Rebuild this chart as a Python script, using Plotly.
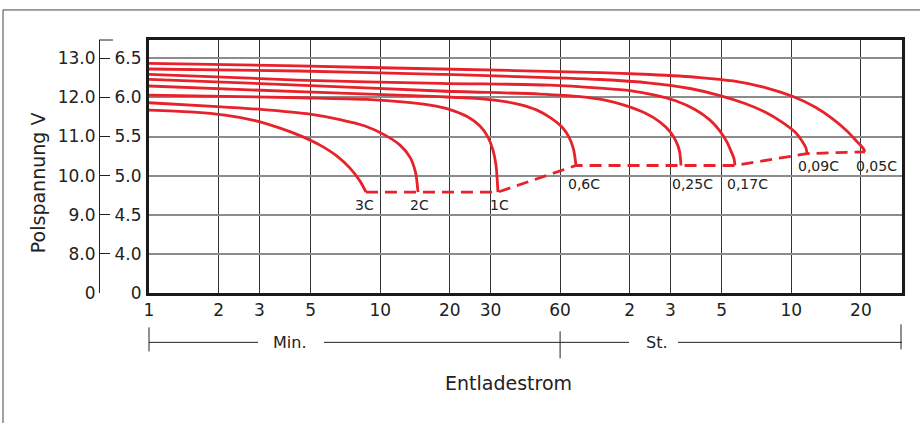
import numpy as np
import plotly.graph_objects as go

# ---------------- data (time in minutes, voltage on the 6 V scale) ----------------
curve_names = ["3C", "2C", "1C", "0,6C", "0,25C", "0,17C", "0,09C", "0,05C"]

t_3C = [1, 1.504, 2.132, 2.873, 3.687, 4.50, 5.49, 6.504, 7.403, 8.178, 8.68]
v_3C = [5.838, 5.815, 5.774, 5.704, 5.608, 5.512, 5.390, 5.250, 5.096, 4.930, 4.79]

t_2C = [1, 1.97, 3.337, 4.971, 6.70, 8.596, 10.49, 12.18, 13.45, 14.21, 14.57]
v_2C = [5.932, 5.883, 5.838, 5.787, 5.717, 5.634, 5.518, 5.390, 5.237, 5.045, 4.79]

t_1C = [1, 4.50, 8.77, 12.80, 16.42, 20.04, 23.98, 27.02, 29.26, 30.75, 31.69, 32.31]
v_1C = [6.030, 5.996, 5.975, 5.941, 5.902, 5.845, 5.749, 5.634, 5.493, 5.326, 5.134, 4.79]

t_06C = [1, 4.41, 18.14, 25.70, 32.98, 40.25, 47.67, 54.8, 61.13, 65.55, 68.56, 70.30]
v_06C = [6.146, 6.073, 6.009, 5.988, 5.956, 5.909, 5.838, 5.736, 5.621, 5.493, 5.339, 5.13]

t_025C = [1, 4.41, 18.14, 49.12, 73.14, 93.8, 114.5, 139.8, 162.3, 179.3, 190.3, 197.0, 200.0]
v_025C = [6.231, 6.158, 6.082, 6.043, 6.011, 5.966, 5.898, 5.800, 5.685, 5.563, 5.442, 5.314, 5.13]

t_017C = [1, 4.41, 18.14, 54.26, 89.3, 120.3, 154.4, 188.4, 229.9, 267.1, 294.9, 316.2, 329.1, 339.1, 342.4]
v_017C = [6.295, 6.222, 6.180, 6.158, 6.120, 6.088, 6.030, 5.960, 5.845, 5.710, 5.570, 5.429, 5.314, 5.218, 5.13]

t_009C = [1, 4.41, 18.14, 89.3, 146.9, 218.8, 294.9, 378.3, 461.7, 546.9, 622.6, 667.4, 694.6, 701.5]
v_009C = [6.363, 6.338, 6.295, 6.229, 6.184, 6.114, 6.024, 5.922, 5.813, 5.685, 5.557, 5.442, 5.352, 5.282]

t_005C = [1, 4.41, 18.14, 89.3, 146.9, 241.7, 335.7, 471.0, 610.2, 759.7, 908.9, 1044.7, 1154.3, 1225.5, 1250]
v_005C = [6.436, 6.402, 6.363, 6.318, 6.293, 6.254, 6.210, 6.120, 6.011, 5.877, 5.723, 5.570, 5.435, 5.352, 5.305]

x_tickvals = [1, 2, 3, 5, 10, 20, 30, 60, 120, 180, 300, 600, 1200]
x_ticktext = ["1", "2", "3", "5", "10", "20", "30", "60", "2", "3", "5", "10", "20"]

y_tickvals = [3.5, 4.0, 4.5, 5.0, 5.5, 6.0, 6.5]
y_ticktext_6v = ["0", "4.0", "4.5", "5.0", "5.5", "6.0", "6.5"]
y_ticktext_12v = ["0", "8.0", "9.0", "10.0", "11.0", "12.0", "13.0"]

# ---------------- styling ----------------
RED = "#e8222b"
INK = "#222222"
FONT = "DejaVu Sans"
W, H = 920, 423
PLOT_L, PLOT_R = 149, 902          # pixel edges of the plot frame
PLOT_T, PLOT_B = 40, 292.7
PAPER_W = PLOT_R                   # margin l = 0, r = W - PLOT_R
X_RANGE = [0, 3.257]
Y_RANGE = [3.5, 6.734]

# label offsets (px) relative to the curve end points
label_style = {
    "3C": (-1, -13), "2C": (2, -13), "1C": (2, -13), "0,6C": (8, -18.5),
    "0,25C": (12, -19), "0,17C": (13, -19), "0,09C": (12, -12.5), "0,05C": (12, -14.5),
}

series = [(t_3C, v_3C), (t_2C, v_2C), (t_1C, v_1C), (t_06C, v_06C),
          (t_025C, v_025C), (t_017C, v_017C), (t_009C, v_009C), (t_005C, v_005C)]

fig = go.Figure()

for name, (t, v) in zip(curve_names, series):
    fig.add_trace(go.Scatter(x=t, y=v, mode="lines", name=name,
                             line=dict(color=RED, width=2.8, shape="spline", smoothing=0.8),
                             hoverinfo="skip"))

# dashed end-of-discharge line through the curve end points
end_t = [s[0][-1] for s in series]
end_v = [s[1][-1] for s in series]
fig.add_trace(go.Scatter(x=end_t, y=end_v, mode="lines",
                         line=dict(color=RED, width=2.8, dash="12px,7px"),
                         hoverinfo="skip"))

# invisible trace so that the 12 V axis is rendered
fig.add_trace(go.Scatter(x=[1], y=[3.5], yaxis="y2", mode="markers",
                         marker=dict(opacity=0), hoverinfo="skip"))

# curve labels
for name, t, v in zip(curve_names, end_t, end_v):
    dx, dy = label_style[name]
    fig.add_annotation(x=np.log10(t), y=v, xref="x", yref="y", text=name,
                       showarrow=False, xshift=dx, yshift=dy, xanchor="center", yanchor="middle",
                       font=dict(family=FONT, size=14, color=INK))

fig.update_layout(
    width=W, height=H,
    margin=dict(l=0, r=W - PLOT_R, t=PLOT_T, b=H - PLOT_B, autoexpand=False),
    paper_bgcolor="white", plot_bgcolor="white", showlegend=False,
    font=dict(family=FONT, color=INK),
    xaxis=dict(type="log", domain=[PLOT_L / PAPER_W, 1], range=X_RANGE,
               tickvals=x_tickvals, ticktext=x_ticktext, ticks="",
               showgrid=True, gridcolor="#333333", gridwidth=1.2,
               showline=True, mirror=True, linecolor="#1a1a1a", linewidth=3,
               zeroline=False, tickfont=dict(size=17, family=FONT, color=INK)),
    yaxis=dict(range=Y_RANGE, tickvals=y_tickvals, ticktext=y_ticktext_6v, ticks="",
               showgrid=True, gridcolor="#8c8c8c", gridwidth=2,
               showline=True, mirror=True, linecolor="#1a1a1a", linewidth=3,
               zeroline=False, anchor="x", ticklabelstandoff=1,
               tickfont=dict(size=17, family=FONT, color=INK)),
    yaxis2=dict(range=Y_RANGE, tickvals=y_tickvals, ticktext=y_ticktext_12v,
                overlaying="y", anchor="free", position=99 / PAPER_W, side="left",
                showline=True, linecolor=INK, linewidth=1,
                ticks="inside", ticklen=10, tickwidth=1, tickcolor=INK,
                showgrid=False, zeroline=False,
                tickfont=dict(size=17, family=FONT, color=INK)),
)

# ---- decorations (pixel helpers -> paper coordinates) ----
def py2p(py):
    return (PLOT_B - py) / (PLOT_B - PLOT_T)

def px2p(px):
    return px / PAPER_W

px_60 = PLOT_L + np.log10(60) / X_RANGE[1] * (PLOT_R - PLOT_L)

line_k = dict(color=INK, width=1)
# top cap of the 12 V bracket
fig.add_shape(type="line", xref="paper", yref="paper", x0=px2p(99), x1=px2p(113),
              y0=1, y1=1, line=line_k)
# outer frame (top and left)
fig.add_shape(type="line", xref="paper", yref="paper", x0=px2p(3), x1=px2p(W),
              y0=py2p(10), y1=py2p(10), line=dict(color="#444", width=1))
fig.add_shape(type="line", xref="paper", yref="paper", x0=px2p(3), x1=px2p(3),
              y0=py2p(10), y1=py2p(H + 5), line=dict(color="#444", width=1))

# Min. / St. bracket below the x axis
yb = py2p(342)
for a, b in [(PLOT_L, 258), (324, px_60), (px_60, 629), (678, PLOT_R)]:
    fig.add_shape(type="line", xref="paper", yref="paper", x0=px2p(a), x1=px2p(b),
                  y0=yb, y1=yb, line=line_k)
for xv, p0, p1 in [(PLOT_L, 327, 351), (px_60, 331, 358), (PLOT_R - 1, 324, 349)]:
    fig.add_shape(type="line", xref="paper", yref="paper", x0=px2p(xv), x1=px2p(xv),
                  y0=py2p(p0), y1=py2p(p1), line=line_k)

fig.add_annotation(x=px2p(289), y=yb, xref="paper", yref="paper", text="Min.", showarrow=False,
                   xanchor="center", yanchor="middle", font=dict(family=FONT, size=16, color=INK))
fig.add_annotation(x=px2p(657), y=yb, xref="paper", yref="paper", text="St.", showarrow=False,
                   xanchor="center", yanchor="middle", font=dict(family=FONT, size=16, color=INK))
fig.add_annotation(x=px2p(508), y=py2p(383), xref="paper", yref="paper",
                   text="Entladestrom", showarrow=False, xanchor="center", yanchor="middle",
                   font=dict(family=FONT, size=19, color=INK))
fig.add_annotation(x=px2p(38), y=py2p(183), xref="paper", yref="paper",
                   text="Polspannung V", textangle=-90, showarrow=False,
                   xanchor="center", yanchor="middle",
                   font=dict(family=FONT, size=19, color=INK))

fig.write_html("out.html", config={"displayModeBar": False},
               post_script="document.body.style.margin='0';")
